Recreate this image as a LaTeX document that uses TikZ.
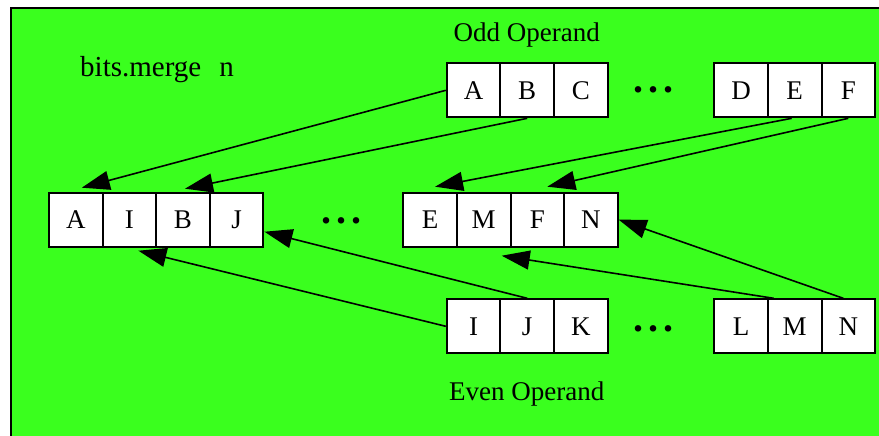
\documentclass[tikz,border=0pt]{standalone}
\usepackage{fontspec}
\setmainfont{Liberation Serif}
\usetikzlibrary{arrows.meta}
\definecolor{fundo}{RGB}{58,255,30}

\begin{document}
\begin{tikzpicture}[x=0.5pt, y=-0.5pt,
    every node/.style={font=\fontsize{13.5}{16}\selectfont},
    celula/.style={draw, fill=white, line width=1pt, minimum width=26.8pt, minimum height=27pt, inner sep=0pt},
    seta/.style={-{Triangle[length=14pt,width=9.5pt]}, line width=0.8pt},
    pontos/.style={font=\fontsize{20}{22}\selectfont\bfseries, anchor=base}]
    \clip (0,0) rectangle (879,435);
    % fundo e moldura
    \fill[fundo] (11,8) rectangle (900,460);
    \draw[line width=1.2pt] (11,460) -- (11,8) -- (900,8);

    \node[anchor=base, font=\fontsize{14.5}{17}\selectfont] (titulo) at (157,76.7) {bits.merge\hspace{9pt}n};

    % operando impar
    \node[anchor=base] (impar) at (526.7,41.5) {Odd Operand};
    \foreach \l [count=\i] in {A,B,C}
        \node[celula] (o\l) at (420+53.6*\i,90.3) {\l};
    \foreach \l [count=\i] in {D,E,F}
        \node[celula] (o\l) at (687.5+53.6*\i,90.3) {\l};
    \node[pontos] (p1) at (653,92.5) {.\kern2.5pt.\kern2.5pt.};

    % resultado intercalado
    \foreach \l [count=\i] in {A,I,B,J}
        \node[celula] (m\l) at (22.2+53.6*\i,219.7) {\l};
    \foreach \l [count=\i] in {E,M,F,N}
        \node[celula] (m\l) at (376.5+53.6*\i,219.7) {\l};
    \node[pontos] (p2) at (341.7,223.5) {.\kern2.5pt.\kern2.5pt.};

    % operando par
    \foreach \l [count=\i] in {I,J,K}
        \node[celula] (e\l) at (420+53.6*\i,326.3) {\l};
    \foreach \l [count=\i] in {L,M,N}
        \node[celula] (e\l) at (687.5+53.6*\i,326.3) {\l};
    \node[pontos] (p3) at (653,331.8) {.\kern2.5pt.\kern2.5pt.};
    \node[anchor=base] (par) at (526.7,400) {Even Operand};

    % ligacoes do operando impar
    \draw[seta] (oA.west) -- ([xshift=3pt,yshift=2pt]mA.north);
    \draw[seta] (oB.south) -- ([xshift=1pt,yshift=1.5pt]mB.north);
    \draw[seta] ([xshift=-1.5pt]oE.south) -- ([xshift=2.5pt,yshift=2.5pt]mE.north);
    \draw[seta] (oF.south) -- ([xshift=5pt,yshift=2.5pt]mF.north);

    % ligacoes do operando par
    \draw[seta] (eJ.north) -- ([yshift=-6pt]mJ.east);
    \draw[seta] (eI.west) -- ([xshift=4.5pt,yshift=-1.5pt]mI.south);
    \draw[seta] ([xshift=-10.5pt]eM.north) -- ([xshift=9pt,yshift=-4pt]mM.south);
    \draw[seta] ([xshift=-2.5pt]eN.north) -- (mN.east);
\end{tikzpicture}
\end{document}
